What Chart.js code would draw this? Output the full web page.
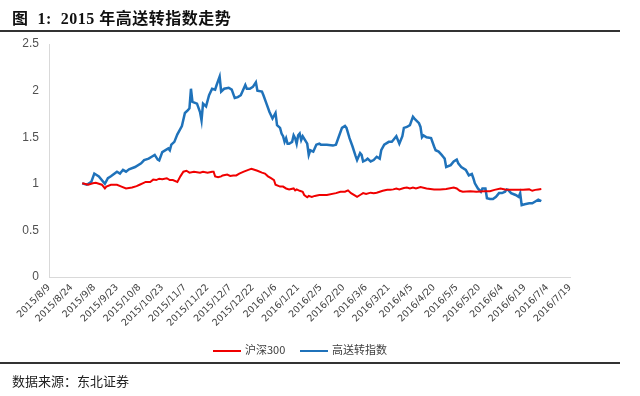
<!DOCTYPE html>
<html>
<head>
<meta charset="utf-8">
<script src="https://cdn.jsdelivr.net/npm/chart.js@4"></script>
<style>
  body { margin: 0; background: #fff; }
  #wrap { position: relative; width: 640px; height: 396px; overflow: hidden; }
  #titulo { position: absolute; left: 12px; top: 5px; font: bold 16px "Liberation Serif", "Noto Sans CJK SC", serif; color: #111; letter-spacing: 0.5px; white-space: nowrap; }
  .raya { position: absolute; left: 0; width: 620px; height: 2px; background: #333; }
  #fuente { position: absolute; left: 12px; top: 371px; font: 13px "Noto Sans CJK SC", sans-serif; color: #222; }
  #leyenda { position: absolute; top: 341px; font: 11px "Noto Sans CJK SC", sans-serif; color: #404040; }
  .item { position: absolute; white-space: nowrap; }
  .linea { display: inline-block; width: 28px; height: 2px; vertical-align: middle; margin-right: 4px; }
  #myChart { position: absolute; left: 0; top: 0; }
</style>
</head>
<body>
<div id="wrap">
  <canvas id="myChart" width="640" height="396"></canvas>
  <div id="titulo">图&nbsp; 1:&nbsp; 2015 年高送转指数走势</div>
  <div class="raya" style="top:30px"></div>
  <div id="leyenda">
    <span class="item" style="left:213px"><span class="linea" style="background:#f00000"></span>沪深300</span>
    <span class="item" style="left:300px"><span class="linea" style="background:#1f72ba"></span>高送转指数</span>
  </div>
  <div class="raya" style="top:362px"></div>
  <div id="fuente">数据来源：东北证券</div>
</div>
<script>
// etiquetas del eje x (cada 15 dias desde 2015/8/9)
const tickLabels = ['2015/8/9', '2015/8/24', '2015/9/8', '2015/9/23', '2015/10/8', '2015/10/23', '2015/11/7', '2015/11/22',
    '2015/12/7', '2015/12/22', '2016/1/6', '2016/1/21', '2016/2/5', '2016/2/20', '2016/3/6', '2016/3/21',
    '2016/4/5', '2016/4/20', '2016/5/5', '2016/5/20', '2016/6/4', '2016/6/19', '2016/7/4', '2016/7/19']

// dias contados desde 2015/8/9 y valores de cada serie
const hs300Days = [22, 26, 29, 31, 35, 37, 38, 41, 45, 48, 51, 55, 58, 60, 62, 64, 67, 69, 71, 73, 75, 78, 80, 82, 85, 87, 89, 91, 93,
    96, 100, 102, 105, 108, 109, 110, 112, 114, 115, 118, 120, 122, 124, 126, 129, 132, 134, 136, 138, 141, 143, 145, 147, 149,
    150, 153, 155, 157, 159, 162, 163, 164, 166, 168, 169, 171, 172, 174, 176, 179, 184, 190, 193, 196, 198, 200, 203, 204, 206,
    208, 210, 213, 215, 217, 219, 221, 224, 226, 228, 230, 232, 235, 237, 239, 241, 243, 246, 250, 255, 259, 263, 268, 270, 272,
    274, 279, 283, 288, 292, 295, 299, 302, 305, 310, 314, 318, 320, 322, 324, 326]
const hs300Values = [1.005, 0.99, 1.005, 1.01, 0.99, 0.95, 0.97, 0.99, 0.99, 0.97, 0.95, 0.96, 0.975, 0.99, 1.005, 1.02, 1.02, 1.045,
    1.04, 1.055, 1.05, 1.06, 1.04, 1.04, 1.02, 1.08, 1.13, 1.14, 1.12, 1.13, 1.12, 1.13, 1.12, 1.13, 1.13, 1.08, 1.07, 1.08, 1.09,
    1.10, 1.085, 1.09, 1.09, 1.11, 1.13, 1.15, 1.16, 1.15, 1.14, 1.12, 1.11, 1.08, 1.06, 1.04, 0.99, 0.97, 0.97, 0.95, 0.94, 0.95,
    0.93, 0.94, 0.925, 0.915, 0.88, 0.855, 0.87, 0.86, 0.87, 0.88, 0.88, 0.90, 0.915, 0.915, 0.93, 0.90, 0.87, 0.86, 0.88, 0.90,
    0.89, 0.905, 0.90, 0.905, 0.915, 0.925, 0.935, 0.935, 0.94, 0.95, 0.94, 0.955, 0.96, 0.95, 0.96, 0.95, 0.965, 0.95, 0.94,
    0.94, 0.945, 0.96, 0.95, 0.925, 0.915, 0.92, 0.915, 0.92, 0.92, 0.935, 0.95, 0.94, 0.935, 0.935, 0.935, 0.94, 0.925, 0.935,
    0.94, 0.945]

const gaoDays = [22, 25, 28, 30, 33, 37, 39, 41, 45, 47, 49, 51, 53, 57, 61, 63, 66, 68, 70, 72, 73, 75, 79, 80, 81, 83, 85, 88, 90,
    92, 93, 94, 95, 98, 100, 101, 102, 104, 106, 108, 110, 111, 113, 114, 116, 119, 121, 123, 125, 127, 130, 131, 133, 135, 137,
    138, 141, 142, 144, 146, 148, 150, 151, 153, 154, 155, 156, 157, 158, 159, 161, 162, 163, 164, 165, 166, 167, 168, 171, 172,
    173, 175, 177, 179, 180, 184, 188, 190, 192, 194, 196, 197, 199, 201, 203, 204, 206, 207, 208, 210, 211, 213, 215, 217, 219,
    220, 222, 225, 227, 228, 230, 232, 234, 235, 237, 239, 241, 242, 245, 246, 247, 248, 250, 253, 255, 256, 258, 260, 261, 262,
    263, 266, 268, 270, 271, 273, 276, 278, 280, 281, 282, 284, 286, 287, 289, 290, 292, 294, 296, 298, 300, 302, 303, 304, 306,
    309, 311, 312, 313, 315, 318, 320, 322, 324, 326]
const gaoValues = [1.005, 0.99, 1.02, 1.11, 1.08, 1.00, 1.06, 1.08, 1.13, 1.11, 1.15, 1.13, 1.155, 1.18, 1.22, 1.255, 1.27, 1.29,
    1.31, 1.26, 1.25, 1.34, 1.38, 1.36, 1.42, 1.45, 1.53, 1.62, 1.76, 1.79, 1.81, 2.02, 1.88, 1.86, 1.77, 1.68, 1.86, 1.83, 1.95,
    2.02, 2.01, 2.06, 2.15, 1.99, 2.02, 2.03, 2.01, 1.92, 1.93, 1.95, 2.06, 2.02, 2.02, 2.04, 2.09, 2.00, 1.99, 1.95, 1.86, 1.77,
    1.70, 1.76, 1.63, 1.60, 1.54, 1.51, 1.45, 1.49, 1.43, 1.43, 1.45, 1.52, 1.49, 1.43, 1.52, 1.54, 1.47, 1.51, 1.43, 1.31, 1.36,
    1.345, 1.42, 1.43, 1.42, 1.42, 1.41, 1.42, 1.51, 1.60, 1.62, 1.60, 1.49, 1.40, 1.30, 1.255, 1.33, 1.31, 1.24, 1.255, 1.27,
    1.24, 1.255, 1.29, 1.27, 1.36, 1.42, 1.45, 1.45, 1.47, 1.51, 1.43, 1.51, 1.60, 1.61, 1.63, 1.72, 1.70, 1.65, 1.61, 1.50, 1.52,
    1.50, 1.49, 1.40, 1.36, 1.345, 1.31, 1.29, 1.27, 1.18, 1.20, 1.24, 1.26, 1.22, 1.18, 1.15, 1.09, 1.105, 1.06, 1.005, 0.95,
    0.915, 0.95, 0.95, 0.845, 0.837, 0.837, 0.86, 0.90, 0.90, 0.915, 0.94, 0.935, 0.90, 0.88, 0.86, 0.90, 0.77, 0.78, 0.79, 0.79,
    0.81, 0.83, 0.815]

const toPoints = (days, values) => days.map((d, i) => ({ x: d, y: values[i] }))

const ctx = document.querySelector('#myChart').getContext('2d')
const myChart = new Chart(ctx, {
    type: 'line',
    data: {
        datasets: [{
            label: '沪深300',
            data: toPoints(hs300Days, hs300Values),
            borderColor: '#f00000',
            borderWidth: 2,
            pointRadius: 0,
            tension: 0
        }, {
            label: '高送转指数',
            data: toPoints(gaoDays, gaoValues),
            borderColor: '#1f72ba',
            borderWidth: 2.5,
            pointRadius: 0,
            tension: 0
        }]
    },
    options: {
        responsive: false,
        animation: false,
        layout: { padding: { left: 0, top: 44, right: 70, bottom: 55 } },
        plugins: { legend: { display: false }, tooltip: { enabled: false } },
        scales: {
            x: {
                type: 'linear',
                min: 0,
                max: (tickLabels.length - 1) * 15,
                afterBuildTicks: (scale) => {
                    scale.ticks = tickLabels.map((t, i) => ({ value: i * 15 }))
                },
                afterFit: (scale) => { scale.height = 64 },
                grid: { display: false, drawTicks: false },
                border: { display: true, color: '#d9d9d9', width: 1 },
                ticks: {
                    autoSkip: false,
                    maxRotation: 45,
                    minRotation: 45,
                    padding: 5,
                    color: '#404040',
                    font: { family: 'DejaVu Sans', size: 9.5 },
                    callback: (value, index) => tickLabels[index]
                }
            },
            y: {
                min: 0,
                max: 2.5,
                afterFit: (scale) => { scale.width = 49 },
                grid: { display: false, drawTicks: false },
                border: { display: true, color: '#d9d9d9', width: 1 },
                ticks: {
                    stepSize: 0.5,
                    padding: 10,
                    color: '#505050',
                    font: { family: 'Liberation Sans', size: 12 },
                    callback: (value) => String(+value.toFixed(1))
                }
            }
        }
    }
})
</script>
</body>
</html>
